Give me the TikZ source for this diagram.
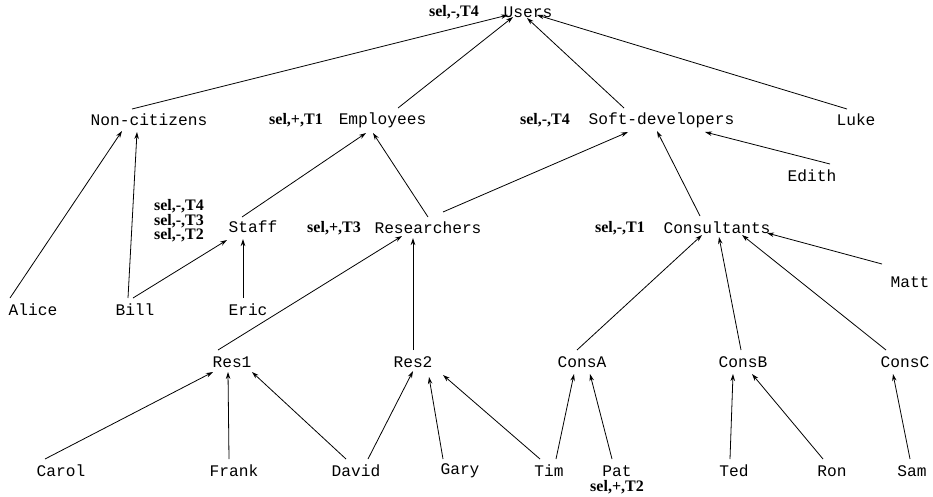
\documentclass[tikz,border=0pt]{standalone}
\usepackage{fontspec}
\setmainfont{Liberation Serif}
\newfontfamily\monofam{Liberation Mono}
\usetikzlibrary{arrows.meta}
\tikzset{
  item/.style={inner sep=0pt, font=\monofam\fontsize{16.2}{18}\selectfont},
  tag/.style={inner sep=0pt, align=center, font=\bfseries\fontsize{16}{13.5}\selectfont},
  conn/.style={line width=0.8pt, -{Stealth[length=7pt,width=4.5pt]}}
}
\newcommand\edge[6]{\draw[conn] ([shift={(#2,#3)}]#1.center) -- ([shift={(#5,#6)}]#4.center);}
\begin{document}
\begin{tikzpicture}[x=1pt,y=-1pt]
\useasboundingbox (0,0) rectangle (933,496);
% hierarchy levels
\node[item] (users) at (528,12) {Users};
\node[tag] (tusers) at (454,12) {sel,-,T4};

\node[item] (noncit) at (149,120) {Non-citizens};
\node[item] (employees) at (382.5,120) {Employees};
\node[tag] (temployees) at (296,120) {sel,+,T1};
\node[item] (softdev) at (661.5,120) {Soft-developers};
\node[tag] (tsoftdev) at (545,120) {sel,-,T4};
\node[item] (luke) at (856,120) {Luke};
\node[item] (edith) at (812,176) {Edith};

\node[item] (staff) at (253,227) {Staff};
\node[tag] (tstaff) at (179,221) {sel,-,T4\\sel,-,T3\\sel,-,T2};
\node[item] (researchers) at (428,228) {Researchers};
\node[tag] (tresearchers) at (334,228) {sel,+,T3};
\node[item] (consultants) at (717,228) {Consultants};
\node[tag] (tconsultants) at (620,228) {sel,-,T1};
\node[item] (matt) at (910,282) {Matt};

\node[item] (alice) at (33,310) {Alice};
\node[item] (bill) at (135,310) {Bill};
\node[item] (eric) at (248,310) {Eric};

\node[item] (res1) at (232,362) {Res1};
\node[item] (res2) at (413,362) {Res2};
\node[item] (consA) at (582,362) {ConsA};
\node[item] (consB) at (743,362) {ConsB};
\node[item] (consC) at (905,362) {ConsC};

\node[item] (carol) at (61,471) {Carol};
\node[item] (frank) at (234,471) {Frank};
\node[item] (david) at (356,471) {David};
\node[item] (gary) at (460,471) {Gary};
\node[item] (tim) at (549,471) {Tim};
\node[item] (pat) at (617,471) {Pat};
\node[tag] (tpat) at (617,487) {sel,+,T2};
\node[item] (ted) at (734,471) {Ted};
\node[item] (ron) at (832,471) {Ron};
\node[item] (sam) at (912,471) {Sam};

% membership arrows, child -> parent
\edge{noncit}{-17}{-11}{users}{-20}{3}
\edge{employees}{15.5}{-12}{users}{-15}{5}
\edge{softdev}{-37.5}{-12}{users}{-1}{6}
\edge{luke}{-9}{-11}{users}{9}{3}
\edge{alice}{-23}{-12}{noncit}{-27}{11}
\edge{bill}{-7}{-12}{noncit}{-12}{12}
\edge{bill}{-2}{-12}{staff}{-26}{13}
\edge{eric}{-5}{-12}{staff}{-10}{12}
\edge{staff}{-11}{-10}{employees}{-16.5}{13}
\edge{researchers}{0}{-11}{employees}{-9.5}{13}
\edge{researchers}{15}{-16}{softdev}{-33.5}{12}
\edge{consultants}{-17}{-12}{softdev}{-4.5}{11}
\edge{edith}{18}{-12}{softdev}{43.5}{12}
\edge{matt}{-28}{-18}{consultants}{50}{5}
\edge{consA}{-5}{-12}{consultants}{-15}{7}
\edge{consB}{-2}{-12}{consultants}{2}{9}
\edge{consC}{-19}{-12}{consultants}{25}{7}
\edge{res1}{-14}{-12}{researchers}{-26}{8}
\edge{res2}{0}{-12}{researchers}{-15}{10}
\edge{carol}{-16}{-12}{res1}{-19}{10}
\edge{frank}{-5}{-12}{res1}{-4}{10}
\edge{david}{-10}{-12}{res1}{20}{10}
\edge{david}{12}{-12}{res2}{0}{9}
\edge{gary}{-17}{-12}{res2}{16}{15}
\edge{tim}{-9}{-12}{res2}{30}{13}
\edge{tim}{7}{-12}{consA}{-8}{12}
\edge{pat}{-5}{-12}{consA}{8}{12}
\edge{ted}{-4}{-12}{consB}{-10}{12}
\edge{ron}{-9}{-12}{consB}{9}{12}
\edge{sam}{-2}{-12}{consC}{-12}{12}
\end{tikzpicture}
\end{document}
